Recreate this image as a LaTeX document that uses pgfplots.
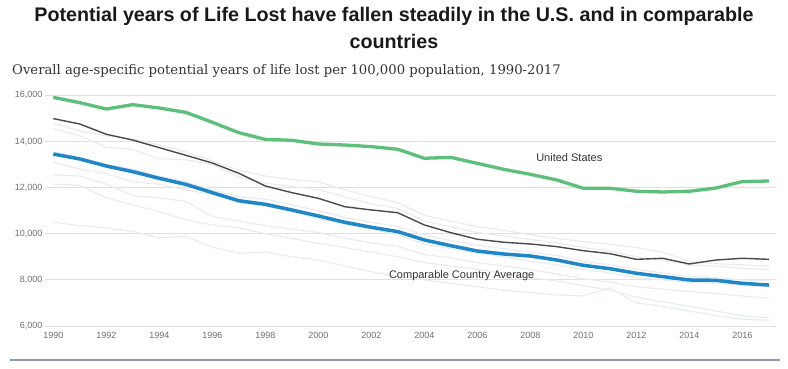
\documentclass[border=0pt]{standalone}
\usepackage{pgfplots}
\pgfplotsset{compat=1.18}
\usepackage{fontspec}
\setmainfont{Liberation Sans}
\newfontfamily\subfont{DejaVu Serif}
\definecolor{usgreen}{HTML}{5CBF7A}
\definecolor{avgblue}{HTML}{1F87C8}
\definecolor{darkln}{HTML}{4A4A4A}
\definecolor{faint}{HTML}{E8ECF0}
\definecolor{gridc}{HTML}{DDE1E5}
\definecolor{tickc}{HTML}{707070}
\definecolor{rulec}{HTML}{8B9BAB}
\begin{document}
\begin{tikzpicture}[x=1pt,y=1pt]
\path[use as bounding box] (0,0) rectangle (788,368);
\node[font=\bfseries\fontsize{19.7}{22}\selectfont, text=black!90, anchor=base] at (394,347) {Potential years of Life Lost have fallen steadily in the U.S. and in comparable};
\node[font=\bfseries\fontsize{19.7}{22}\selectfont, text=black!90, anchor=base] at (394,320) {countries};
\node[font=\subfont\fontsize{13.2}{15}\selectfont, text=black!80, anchor=base west, inner sep=0pt] at (12,294) {Overall age-specific potential years of life lost per 100,000 population, 1990-2017};
\draw[rulec, line width=2pt] (10,8) -- (780,8);
\begin{axis}[
  at={(45pt,42pt)}, anchor=south west,
  scale only axis, width=731pt, height=230.7pt,
  xmin=1989.687, xmax=2017.27, ymin=6000, ymax=16000,
  axis line style={draw=none},
  ymajorgrids, grid style={gridc, line width=0.8pt},
  xtick={1990,1992,...,2016}, ytick={6000,8000,...,16000},
  major tick length=0pt,
  scaled y ticks=false,
  tick label style={font=\fontsize{9}{10}\selectfont, text=tickc},
  /pgf/number format/assume math mode=true,
  xticklabel style={/pgf/number format/set thousands separator={}, yshift=-2.5pt},
  yticklabel style={/pgf/number format/fixed, /pgf/number format/set thousands separator={,}, xshift=1pt},
  clip=false,
  every axis plot/.append style={line join=round},
]
% faint comparable countries
\addplot[faint, line width=1.2pt] coordinates {(1990,14800)(1991,14450)(1992,14250)(1993,14100)(1994,13850)(1995,13550)(1996,13150)(1997,12750)(1998,12500)(1999,12350)(2000,12250)(2001,11900)(2002,11600)(2003,11350)(2004,10800)(2005,10550)(2006,10300)(2007,10150)(2008,9950)(2009,9800)(2010,9650)(2011,9550)(2012,9400)(2013,9200)(2014,8800)(2015,8700)(2016,8650)(2017,8600)};
\addplot[faint, line width=1.2pt] coordinates {(1990,14550)(1991,14250)(1992,13750)(1993,13650)(1994,13250)(1995,13200)(1996,13000)(1997,12450)(1998,12200)(1999,12050)(2000,11900)(2001,11600)(2002,11300)(2003,11100)(2004,10550)(2005,10300)(2006,10050)(2007,9900)(2008,9750)(2009,9600)(2010,9400)(2011,9250)(2012,9000)(2013,8850)(2014,8650)(2015,8600)(2016,8500)(2017,8450)};
\addplot[faint, line width=1.2pt] coordinates {(1990,13550)(1991,13300)(1992,13000)(1993,12800)(1994,12500)(1995,12250)(1996,11900)(1997,11600)(1998,11500)(1999,11250)(2000,11000)(2001,10700)(2002,10500)(2003,10300)(2004,9950)(2005,9700)(2006,9500)(2007,9350)(2008,9200)(2009,9050)(2010,8800)(2011,8650)(2012,8450)(2013,8300)(2014,8150)(2015,8100)(2016,8000)(2017,7950)};
\addplot[faint, line width=1.2pt] coordinates {(1990,13100)(1991,12800)(1992,12600)(1993,12250)(1994,12150)(1995,11900)(1996,11700)(1997,11350)(1998,11200)(1999,10950)(2000,10650)(2001,10400)(2002,10200)(2003,9950)(2004,9550)(2005,9350)(2006,9150)(2007,9000)(2008,8800)(2009,8650)(2010,8450)(2011,8300)(2012,8100)(2013,8000)(2014,7900)(2015,7850)(2016,7750)(2017,7700)};
\addplot[faint, line width=1.2pt] coordinates {(1990,12550)(1991,12500)(1992,12150)(1993,11650)(1994,11550)(1995,11400)(1996,10750)(1997,10550)(1998,10350)(1999,10200)(2000,10050)(2001,9800)(2002,9600)(2003,9450)(2004,9100)(2005,8950)(2006,8750)(2007,8600)(2008,8450)(2009,8250)(2010,8050)(2011,7900)(2012,7700)(2013,7600)(2014,7500)(2015,7400)(2016,7300)(2017,7200)};
\addplot[faint, line width=1.2pt] coordinates {(1990,12150)(1991,12100)(1992,11550)(1993,11250)(1994,10950)(1995,10600)(1996,10380)(1997,10250)(1998,10000)(1999,9800)(2000,9580)(2001,9400)(2002,9200)(2003,9000)(2004,8750)(2005,8600)(2006,8450)(2007,8300)(2008,8100)(2009,7950)(2010,7750)(2011,7550)(2012,7250)(2013,7050)(2014,6850)(2015,6650)(2016,6450)(2017,6350)};
\addplot[faint, line width=1.2pt] coordinates {(1990,10500)(1991,10350)(1992,10250)(1993,10100)(1994,9820)(1995,9880)(1996,9420)(1997,9150)(1998,9210)(1999,9000)(2000,8860)(2001,8600)(2002,8350)(2003,8150)(2004,8000)(2005,7850)(2006,7700)(2007,7550)(2008,7450)(2009,7350)(2010,7300)(2011,7650)(2012,7000)(2013,6850)(2014,6650)(2015,6450)(2016,6300)(2017,6250)};
% highlighted dark line
\addplot[darkln, line width=1.4pt] coordinates {(1990,14990)(1991,14755)(1992,14310)(1993,14060)(1994,13730)(1995,13400)(1996,13065)(1997,12620)(1998,12070)(1999,11780)(2000,11535)(2001,11170)(2002,11030)(2003,10910)(2004,10380)(2005,10045)(2006,9760)(2007,9630)(2008,9555)(2009,9440)(2010,9265)(2011,9135)(2012,8890)(2013,8935)(2014,8690)(2015,8860)(2016,8935)(2017,8890)};
% United States
\addplot[usgreen, line width=3.3pt] coordinates {(1990,15910)(1991,15680)(1992,15405)(1993,15595)(1994,15450)(1995,15260)(1996,14830)(1997,14380)(1998,14090)(1999,14050)(2000,13890)(2001,13845)(2002,13775)(2003,13660)(2004,13270)(2005,13310)(2006,13050)(2007,12790)(2008,12575)(2009,12330)(2010,11970)(2011,11970)(2012,11840)(2013,11810)(2014,11840)(2015,11980)(2016,12260)(2017,12285)};
% Comparable country average
\addplot[avgblue, line width=3.5pt] coordinates {(1990,13455)(1991,13240)(1992,12935)(1993,12690)(1994,12400)(1995,12140)(1996,11780)(1997,11430)(1998,11275)(1999,11030)(2000,10770)(2001,10495)(2002,10280)(2003,10090)(2004,9730)(2005,9480)(2006,9250)(2007,9120)(2008,9035)(2009,8860)(2010,8630)(2011,8485)(2012,8285)(2013,8140)(2014,7995)(2015,7980)(2016,7850)(2017,7775)};
\node[font=\fontsize{11}{13}\selectfont, text=black!80] at (axis cs:2009.47,13282) {United States};
\node[font=\fontsize{11}{13}\selectfont, text=black!80] at (axis cs:2005.41,8167) {Comparable Country Average};
\end{axis}
\end{tikzpicture}
\end{document}
